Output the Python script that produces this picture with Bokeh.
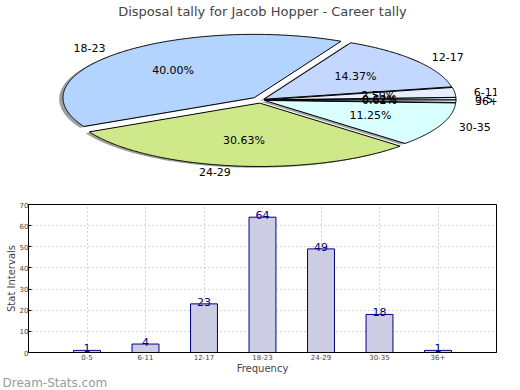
import numpy as np
from bokeh.plotting import figure
from bokeh.layouts import column
from bokeh.models import Range1d, FactorRange, Label
from bokeh.core.properties import value
from bokeh.embed import file_html
from bokeh.resources import INLINE

# ---------------- data ----------------
title_text = "Disposal tally for Jacob Hopper - Career tally"
categories = ["0-5", "6-11", "12-17", "18-23", "24-29", "30-35", "36+"]
counts = [1, 4, 23, 64, 49, 18, 1]
slice_colors = ["#e8f0ff", "#e6eeff", "#c4d8ff", "#b3d4ff", "#cfe98a", "#d9ffff", "#e4f4ff"]
explode = [0.02, 0.02, 0.02, 0.05, 0.05, 0.02, 0.02]
y_ticks = [0, 10, 20, 30, 40, 50, 60, 70]
x_label = "Frequency"
y_label = "Stat Intervals"
watermark = "Dream-Stats.com"

FONT = "DejaVu Sans"

# ---------------- layout constants ----------------
W = 520
H1, H2 = 190, 200
BORDER_L, BORDER_R = 28, 24          # shared frame borders (column aligns frames)
FRAME_L = BORDER_L + 3               # observed frame left edge
FRAME_W = W - FRAME_L - BORDER_R
RX, RY = 190.0, 63.0                 # pixel size of unit pie radius
CX_PX = 262.0 - FRAME_L              # pie centre, frame pixels from left
TITLE_H = 20
FRAME_H1 = H1 - TITLE_H
CY_PX = 100.0 - TITLE_H              # pie centre, frame pixels from top

# ---------------- pie ----------------
p1 = figure(width=W, height=H1, output_backend="svg", toolbar_location=None,
            x_axis_location=None, y_axis_location=None,
            x_range=Range1d(-CX_PX / RX, (FRAME_W - CX_PX) / RX),
            y_range=Range1d(-(FRAME_H1 - CY_PX) / RY, CY_PX / RY),
            min_border_left=0, min_border_right=0, min_border_bottom=0, min_border_top=0,
            match_aspect=False)
p1.title.text = title_text
p1.title.align = "center"
p1.title.text_font = FONT
p1.title.text_font_size = "13px"
p1.title.text_font_style = "normal"
p1.title.standoff = 2
p1.grid.visible = False
p1.outline_line_color = None

total = float(sum(counts))
fracs = np.array(counts) / total
ends = np.cumsum(fracs) * 2 * np.pi
starts = ends - fracs * 2 * np.pi

wx, wy, sx, sy, shadow_cols = [], [], [], [], []
for s, e, ex, col in zip(starts, ends, explode, slice_colors):
    mid = 0.5 * (s + e)
    cx, cy = ex * np.cos(mid), ex * np.sin(mid)
    t = np.linspace(s, e, max(4, int((e - s) * 120)))
    xs = np.concatenate([[cx], cx + np.cos(t)])
    ys = np.concatenate([[cy], cy + np.sin(t)])
    wx.append(xs); wy.append(ys)
    sx.append(xs - 0.02); sy.append(ys - 0.02)
    r, g, b = (int(col[i:i + 2], 16) for i in (1, 3, 5))
    shadow_cols.append("#%02x%02x%02x" % (int(r * 0.3), int(g * 0.3), int(b * 0.3)))

p1.patches(sx, sy, fill_color=shadow_cols, fill_alpha=0.5, line_color=None)
p1.patches(wx, wy, fill_color=slice_colors, line_color="black", line_width=1)

lx_l, ly_l, lt_l, lx_r, ly_r, lt_r = [], [], [], [], [], []
px_, py_, pt_ = [], [], []
for s, e, ex, cat, f in zip(starts, ends, explode, categories, fracs):
    mid = 0.5 * (s + e)
    cx, cy = ex * np.cos(mid), ex * np.sin(mid)
    xt, yt = cx + 1.1 * np.cos(mid), cy + 1.1 * np.sin(mid)
    if xt > 0:
        lx_l.append(xt); ly_l.append(yt); lt_l.append(cat)
    else:
        lx_r.append(xt); ly_r.append(yt); lt_r.append(cat)
    px_.append(cx + 0.6 * np.cos(mid)); py_.append(cy + 0.6 * np.sin(mid))
    pt_.append("%.2f%%" % (f * 100))

common = dict(text_font=value(FONT), text_font_size="11px", text_color="black",
              text_baseline="middle")
p1.text(lx_l, ly_l, text=lt_l, text_align="left", **common)
p1.text(lx_r, ly_r, text=lt_r, text_align="right", **common)
p1.text(px_, py_, text=pt_, text_align="center", **common)

# ---------------- bars ----------------
p2 = figure(width=W, height=H2, output_backend="svg", toolbar_location=None,
            x_range=FactorRange(*categories, range_padding=1.0 / 7.0),
            y_range=Range1d(0, 70),
            min_border_top=14, min_border_right=BORDER_R, min_border_left=BORDER_L,
            min_border_bottom=0)
p2.vbar(x=categories, top=counts, width=0.46, fill_color="#ccccE2",
        line_color="#000080", line_width=1)
p2.text(x=categories, y=counts, text=[str(c) for c in counts], text_align="center",
        text_baseline="bottom", text_font=value(FONT), text_font_size="11px",
        text_color="#000080", y_offset=2)

p2.yaxis.ticker = y_ticks
p2.xaxis.axis_label = x_label
p2.yaxis.axis_label = y_label
for ax in (p2.xaxis, p2.yaxis):
    ax.axis_label_text_font = FONT
    ax.axis_label_text_font_size = "10px"
    ax.axis_label_text_font_style = "normal"
    ax.major_label_text_font = FONT
    ax.major_label_text_font_size = "7px"
    ax.major_tick_out = 0
    ax.minor_tick_out = 0
    ax.minor_tick_in = 0
    ax.axis_label_standoff = 0
    ax.major_label_standoff = 1
    ax.axis_line_color = "black"
p2.yaxis.major_label_standoff = 0
p2.xaxis.major_tick_in = 0
p2.yaxis.major_tick_in = 3
p2.outline_line_color = "black"
p2.outline_line_alpha = 1
p2.grid.grid_line_color = "#aaaaaa"
p2.grid.grid_line_dash = "1 3"

p2.add_layout(Label(x=-BORDER_L + 2, y=1, x_units="screen", y_units="screen", text=watermark,
                    text_font=FONT, text_font_size="12px", text_color="#9a9a9a"), "below")

layout = column(p1, p2, spacing=0)
open("out.html", "w").write(file_html(layout, INLINE))
